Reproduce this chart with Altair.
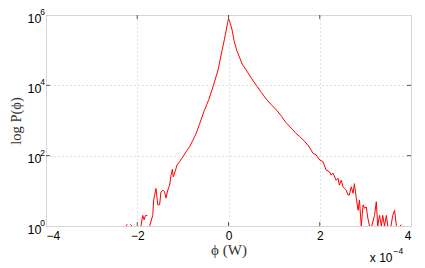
import altair as alt
import pandas as pd
import math

# phi in units of 1e-4 W ; None marks an empty bin (log undefined -> gap)
phi_e4 = [-2.25, -2.22, -2.19, -2.15, -2.12, -2.05,
          -1.92, -1.88, -1.85, -1.82, -1.78, -1.76,
          -1.73, -1.66, -1.64, -1.59, -1.55, -1.51, -1.48, -1.44, -1.40, -1.37,
          -1.33, -1.29, -1.26, -1.23, -1.21, -1.16, -1.13, -1.07, -1.00, -0.93,
          -0.855, -0.78, -0.71, -0.64, -0.54, -0.43, -0.33, -0.23, -0.14, -0.09,
          -0.05, -0.02, 0.0,
          0.02, 0.04, 0.08, 0.12, 0.18, 0.30, 0.39, 0.50, 0.61, 0.72, 0.83, 0.94,
          1.05, 1.16, 1.25, 1.33, 1.41, 1.48, 1.56, 1.65, 1.74, 1.81, 1.85, 1.92,
          2.00, 2.07, 2.14, 2.21, 2.25, 2.29, 2.36, 2.40, 2.43, 2.47, 2.51, 2.58,
          2.62, 2.65, 2.69, 2.73, 2.76, 2.80, 2.84, 2.87, 2.91, 2.95, 2.98, 3.02,
          3.05, 3.09, 3.12, 3.14, 3.20, 3.24, 3.27, 3.31, 3.35, 3.38, 3.42, 3.46,
          3.49, 3.53, 3.56, 3.60, 3.64, 3.68, 3.72, 3.76, 3.79]
counts = [1, 1.12, None, 1.12, 1, None,
          1, 2, 1.5, 2, 2, None,
          1, 2, 5.5, 11.7, 4, 4, 9.3, 10.5, 9.3, 6.2,
          10.5, 14.5, 28, 41, 25, 39, 54, 68, 93, 129,
          178, 275, 427, 760, 1780, 4000, 10000, 27000, 100000, 200000,
          370000, 600000, 800000,
          700000, 575000, 370000, 190000, 100000, 40000, 27000, 16000, 10000, 6300, 4000, 2800,
          2000, 1330, 900, 700, 540, 430, 350, 270, 200, 145, 117, 105,
          75, 68, 39, 35, 28, 32, 20, 23, 14.5, 20, 13, 10.5,
          7.6, 7.6, 13, 8.5, 16, 6.2, 2.8, 5.5, 1, 4, 3.2, 3.5,
          1.8, 1, None, 1, 2, 4.9, 1, 2, 1, 2, 1, 2,
          1, None, 1, 2, 2.8, 1, None, 1, 1.1]

x_ticks = [-4, -2, 0, 2, 4]
y_ticks = [1, 100, 10000, 1000000]
x_inner_ticks = [-2, 0, 2]
y_inner_ticks = [100, 10000]

rows = []
seg = 0
for x, p in zip(phi_e4, counts):
    if p is None:
        seg += 1
        continue
    rows.append({"phi": x, "P": p, "seg": seg})
df = pd.DataFrame(rows)

W, H = 365, 211
BOX = "#555555"
SANS = "Liberation Sans"
SERIF = "Liberation Serif"

xs = alt.Scale(domain=[-4, 4], nice=False, zero=False)
ys = alt.Scale(type="log", domain=[1, 1e6], nice=False)

x_axis = alt.Axis(
    values=x_ticks, title="ϕ (W)", grid=True, gridDash=[1, 3], gridColor="#c4c4c4",
    ticks=False, tickSize=0, domain=False, labelFont=SANS, labelFontSize=12,
    labelColor="#000000", labelPadding=4,
    titleFont=SERIF, titleFontSize=15, titleFontWeight="normal", titleColor="#333333",
    titlePadding=1)
y_axis = alt.Axis(
    values=y_ticks, labelExpr="'10'", title="log P(ϕ)", grid=True, gridDash=[1, 3],
    gridColor="#c4c4c4", ticks=False, tickSize=0, domain=False, labelFont=SANS,
    labelFontSize=12.5, labelColor="#000000", labelPadding=5, labelOffset=3,
    labelBaseline="middle",
    titleFont=SERIF, titleFontSize=14.5, titleFontWeight="normal", titleColor="#333333",
    titlePadding=4)

line = alt.Chart(df).mark_line(color="#ff0000", strokeWidth=1, clip=True).encode(
    x=alt.X("phi:Q", scale=xs, axis=x_axis),
    y=alt.Y("P:Q", scale=ys, axis=y_axis),
    detail="seg:N",
)

exp_df = pd.DataFrame({"P": y_ticks, "e": [str(int(round(math.log10(v)))) for v in y_ticks]})
exps = alt.Chart(exp_df).mark_text(align="right", baseline="middle", dy=-3, fontSize=8.5,
                                   font=SANS, color="#000000").encode(
    y=alt.Y("P:Q", scale=ys, axis=y_axis), x=alt.value(-1), text="e:N")

xt_df = pd.DataFrame({"phi": x_inner_ticks})
yt_df = pd.DataFrame({"P": y_inner_ticks})
bt = alt.Chart(xt_df).mark_rule(color=BOX, strokeWidth=1).encode(
    x=alt.X("phi:Q", scale=xs, axis=x_axis), y=alt.value(H), y2=alt.value(H - 4))
tt = alt.Chart(xt_df).mark_rule(color=BOX, strokeWidth=1).encode(
    x=alt.X("phi:Q", scale=xs, axis=x_axis), y=alt.value(0), y2=alt.value(4))
lt = alt.Chart(yt_df).mark_rule(color=BOX, strokeWidth=1).encode(
    y=alt.Y("P:Q", scale=ys, axis=y_axis), x=alt.value(0), x2=alt.value(4))
rt = alt.Chart(yt_df).mark_rule(color=BOX, strokeWidth=1).encode(
    y=alt.Y("P:Q", scale=ys, axis=y_axis), x=alt.value(W - 4), x2=alt.value(W))

mult_df = pd.DataFrame({"t": ["x 10"], "e": ["−4"]})
mult = alt.Chart(mult_df).mark_text(align="right", baseline="alphabetic", fontSize=12,
                                    font=SANS, color="#000000").encode(
    x=alt.value(346.5), y=alt.value(247), text="t:N")
mult_e = alt.Chart(mult_df).mark_text(align="left", baseline="alphabetic", fontSize=8.5,
                                      font=SANS, color="#000000").encode(
    x=alt.value(347.5), y=alt.value(239), text="e:N")

chart = alt.layer(line, exps, bt, tt, lt, rt, mult, mult_e).properties(
    width=W, height=H,
    autosize=alt.AutoSizeParams(type="none"),
    padding={"left": 38, "top": 7, "right": 6, "bottom": 40},
).configure_view(stroke=BOX, strokeWidth=1).configure(background="white")

chart.save("out.html", embed_options={"renderer": "svg", "actions": False})
